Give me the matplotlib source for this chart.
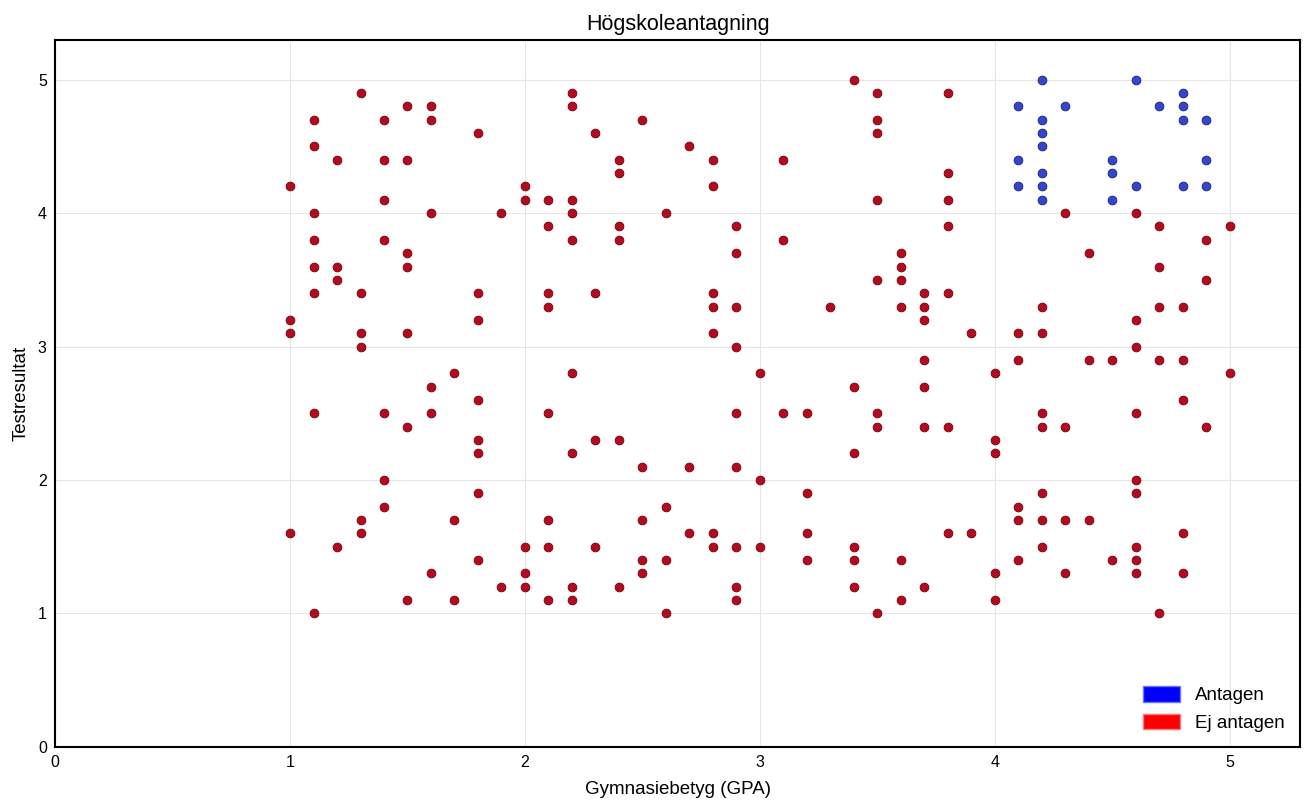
import numpy as np
import matplotlib
matplotlib.use("Agg")
import matplotlib.pyplot as plt
from matplotlib.patches import Patch

# antagna (blå)
antagen_gpa = [4.1, 4.1, 4.1,
               4.2, 4.2, 4.2, 4.2, 4.2, 4.2, 4.2,
               4.3,
               4.5, 4.5, 4.5,
               4.6, 4.6,
               4.7,
               4.8, 4.8, 4.8, 4.8,
               4.9, 4.9, 4.9]
antagen_test = [4.8, 4.4, 4.2,
                5.0, 4.7, 4.6, 4.5, 4.3, 4.2, 4.1,
                4.8,
                4.4, 4.3, 4.1,
                5.0, 4.2,
                4.8,
                4.9, 4.8, 4.7, 4.2,
                4.7, 4.4, 4.2]

# ej antagna (röd), testresultat per betyg
ej_antagen = {
    1.0: [4.2, 3.2, 3.1, 1.6],
    1.1: [4.7, 4.5, 4.0, 3.8, 3.6, 3.4, 2.5, 1.0],
    1.2: [4.4, 3.6, 3.5, 1.5],
    1.3: [4.9, 3.4, 3.1, 3.0, 1.7, 1.6],
    1.4: [4.7, 4.4, 4.1, 3.8, 2.5, 2.0, 1.8],
    1.5: [4.8, 4.4, 3.7, 3.6, 3.1, 2.4, 1.1],
    1.6: [4.8, 4.7, 4.0, 2.7, 2.5, 1.3],
    1.7: [2.8, 1.7, 1.1],
    1.8: [4.6, 3.4, 3.2, 2.6, 2.3, 2.2, 1.9, 1.4],
    1.9: [4.0, 1.2],
    2.0: [4.2, 4.1, 1.5, 1.3, 1.2],
    2.1: [4.1, 3.9, 3.4, 3.3, 2.5, 1.7, 1.5, 1.1],
    2.2: [4.9, 4.8, 4.1, 4.0, 3.8, 2.8, 2.2, 1.2, 1.1],
    2.3: [4.6, 3.4, 2.3, 1.5],
    2.4: [4.4, 4.3, 3.9, 3.8, 2.3, 1.2],
    2.5: [4.7, 2.1, 1.7, 1.4, 1.3],
    2.6: [4.0, 1.8, 1.4, 1.0],
    2.7: [4.5, 2.1, 1.6],
    2.8: [4.4, 4.2, 3.4, 3.3, 3.1, 1.6, 1.5],
    2.9: [3.9, 3.7, 3.3, 3.0, 2.5, 2.1, 1.5, 1.2, 1.1],
    3.0: [2.8, 2.0, 1.5],
    3.1: [4.4, 3.8, 2.5],
    3.2: [2.5, 1.9, 1.6, 1.4],
    3.3: [3.3],
    3.4: [5.0, 2.7, 2.2, 1.5, 1.4, 1.2],
    3.5: [4.9, 4.7, 4.6, 4.1, 3.5, 2.5, 2.4, 1.0],
    3.6: [3.7, 3.6, 3.5, 3.3, 1.4, 1.1],
    3.7: [3.4, 3.3, 3.2, 2.9, 2.7, 2.4, 1.2],
    3.8: [4.9, 4.3, 4.1, 3.9, 3.4, 2.4, 1.6],
    3.9: [3.1, 1.6],
    4.0: [2.8, 2.3, 2.2, 1.3, 1.1],
    4.1: [3.1, 2.9, 1.8, 1.7, 1.4],
    4.2: [3.3, 3.1, 2.5, 2.4, 1.9, 1.7, 1.5],
    4.3: [4.0, 2.4, 1.7, 1.3],
    4.4: [3.7, 2.9, 1.7],
    4.5: [2.9, 1.4],
    4.6: [4.0, 3.2, 3.0, 2.5, 2.0, 1.9, 1.5, 1.4, 1.3],
    4.7: [3.9, 3.6, 3.3, 2.9, 1.0],
    4.8: [3.3, 2.9, 2.6, 1.6, 1.3],
    4.9: [3.8, 3.5, 2.4],
    5.0: [3.9, 2.8],
}

ej_gpa = [g for g, ts in ej_antagen.items() for t in ts]
ej_test = [t for g, ts in ej_antagen.items() for t in ts]

plt.rcParams['font.family'] = ['Arial', 'Liberation Sans', 'DejaVu Sans']

fig = plt.figure(figsize=(13.12, 8.1), dpi=100)
ax = fig.add_axes([0.042, 0.078, 0.949, 0.873])

ax.scatter(ej_gpa, ej_test, s=40, c='#b40a1e', edgecolors='#7a0010',
           linewidths=0.6, zorder=3)
ax.scatter(antagen_gpa, antagen_test, s=40, c='#3346cc', edgecolors='#1a237a',
           linewidths=0.6, zorder=3)

ax.set_xlim(0, 5.3)
ax.set_ylim(0, 5.3)
ax.set_xticks([0, 1, 2, 3, 4, 5])
ax.set_yticks([0, 1, 2, 3, 4, 5])
ax.tick_params(length=0, labelsize=11.5, pad=6)
ax.grid(True, color='#e6e6e6', linewidth=0.8, zorder=0)
ax.set_axisbelow(True)
for s in ax.spines.values():
    s.set_color('black')
    s.set_linewidth(1.5)

ax.set_title("Högskoleantagning", fontsize=15.5, pad=7)
ax.set_xlabel("Gymnasiebetyg (GPA)", fontsize=13.5, labelpad=8)
ax.set_ylabel("Testresultat", fontsize=13.5, labelpad=6)

handles = [Patch(facecolor='#0000ff', edgecolor='#6677ff', label='Antagen'),
           Patch(facecolor='#ff0000', edgecolor='#ff7777', label='Ej antagen')]
ax.legend(handles=handles, loc='lower right', frameon=False, fontsize=13.5,
          handlelength=2.0, handleheight=0.9, handletextpad=0.8,
          labelspacing=0.5, borderaxespad=0.4)

fig.savefig("out.png", dpi=100)
